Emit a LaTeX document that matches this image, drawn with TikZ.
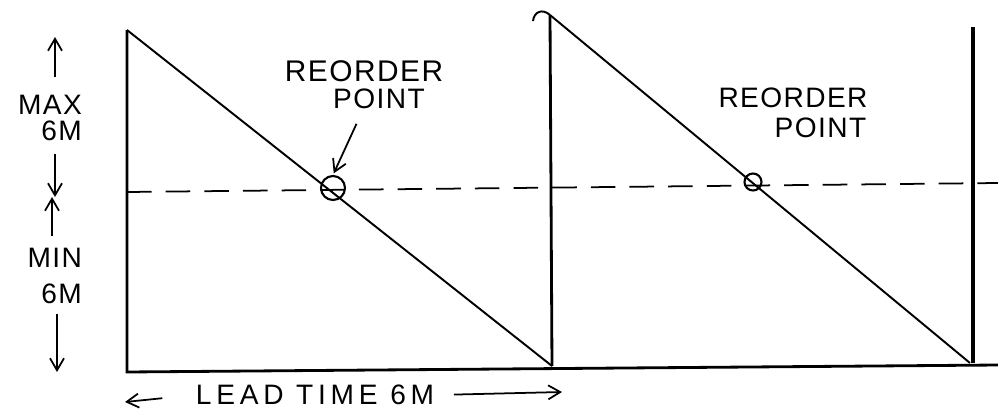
\documentclass[tikz,border=0pt]{standalone}
\usepackage{fontspec}
\newfontfamily\hand[LetterSpace=5]{Liberation Sans}
\usetikzlibrary{arrows.meta,positioning}
\begin{document}
\begin{tikzpicture}[
    x=0.02cm, y=-0.02cm,
    font=\hand\fontsize{16}{15}\selectfont,
    axisline/.style={line width=1.6pt},
    stockline/.style={line width=1.1pt},
    reorderlvl/.style={line width=1pt, dash pattern=on 14pt off 8pt},
    reorderpt/.style={draw, circle, inner sep=0pt, line width=1.2pt},
    arr/.style={-{Straight Barb[length=2.4mm,width=2.8mm]}, line width=1pt},
    lbl/.style={inner sep=1pt}
]
\useasboundingbox (0,0) rectangle (998,416);

% axes and cycle points
\coordinate (o1) at (127,372);
\coordinate (t1) at (127,30);
\coordinate (b1) at (552,366);
\coordinate (t2) at (550,15);
\coordinate (b2) at (970,363);
\coordinate (t3) at (973,27);
\coordinate (bend) at (998,365);

\draw[axisline] (t1) -- (o1) -- (bend);
\draw[axisline] (b1) -- (t2);
\draw[line width=2pt] (t3) -- (973,363);
\draw[stockline] (t2) .. controls (542,8) and (534,12) .. (533,21);

% stock falling
\draw[stockline] (t1) -- (b1);
\draw[stockline] (t2) -- (b2);

% reorder level
\draw[reorderlvl] (127,192) -- (998,183);
\node[reorderpt, minimum size=0.48cm] (rp1) at (333,188) {};
\node[reorderpt, minimum size=0.34cm] (rp2) at (753,182) {};

% reorder point labels
\node[lbl, font=\hand\fontsize{17}{16}\selectfont] (reo1) at (364,71) {REORDER};
\node[lbl, below=2pt of reo1, xshift=0.3cm] (pt1) {POINT};
\draw[arr, shorten >=1pt] ([xshift=-0.45cm,yshift=-0.25cm]pt1.south) -- (rp1.north);

\node[lbl] (reo2) at (793,98) {REORDER};
\node[lbl, below=3pt of reo2, xshift=0.55cm] (pt2) {POINT};

% max / min on the left
\node[lbl, align=right, anchor=east] (max) at (84,118) {MAX\\6M};
\node[lbl, align=right, anchor=east] (min) at (84,276) {MIN\\[5pt]6M};
\coordinate (maxtop) at (55,37);
\coordinate (maxbot) at (55,197);
\coordinate (mintop) at (52,197);
\coordinate (minbot) at (57,372);
\draw[arr, shorten <=9pt] (max.north -| maxtop) -- (maxtop);
\draw[arr, shorten <=6pt] (max.south -| maxbot) -- (maxbot);
\draw[arr, shorten <=6pt] (min.north -| mintop) -- (mintop);
\draw[arr, shorten <=5pt] (min.south -| minbot) -- (minbot);

% lead time
\node[lbl, font=\hand\fontsize{16}{15}\selectfont\addfontfeature{LetterSpace=17}] (lead) at (315,395) {LEAD TIME 6M};
\coordinate (leadl) at (125,402);
\coordinate (leadr) at (562,392);
\draw[arr, shorten <=18pt] (lead.west) -- (leadl);
\draw[arr, shorten <=10pt] (lead.east) -- (leadr);

\end{tikzpicture}
\end{document}
